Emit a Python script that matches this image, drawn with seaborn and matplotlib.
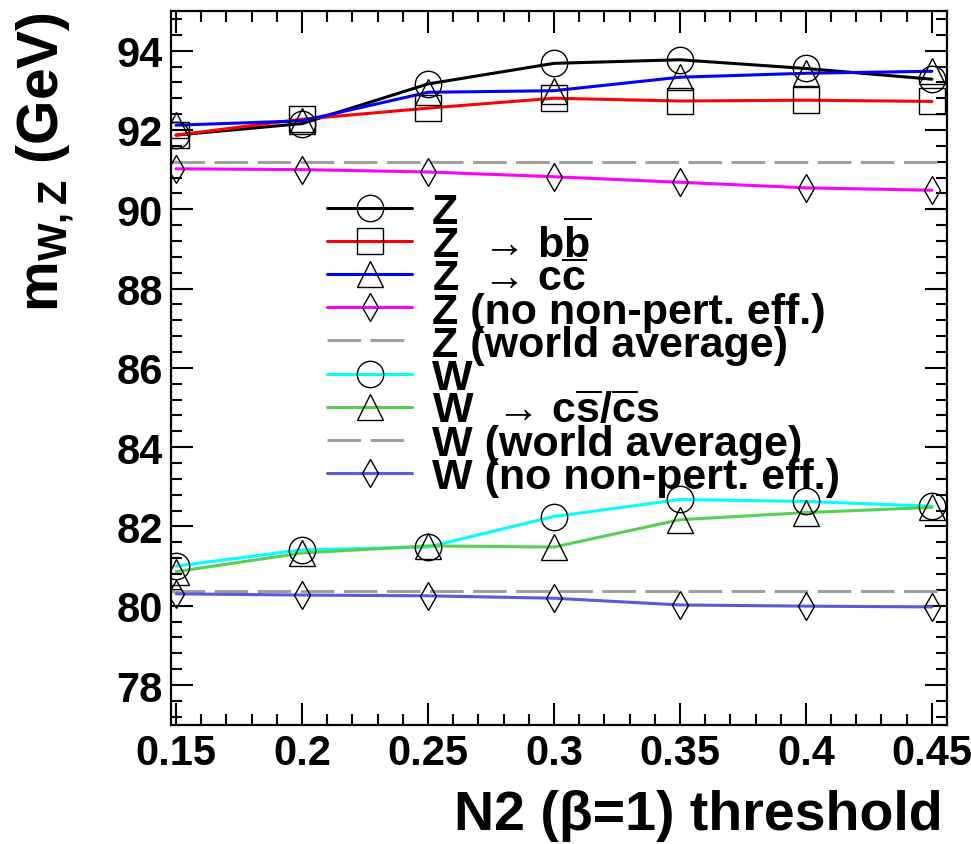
import numpy as np
import pandas as pd
import matplotlib
matplotlib.use("Agg")
import matplotlib.pyplot as plt
from matplotlib.lines import Line2D
from matplotlib.ticker import MultipleLocator
import seaborn as sns

# N2 (beta=1) threshold values
thresholds = [0.15, 0.2, 0.25, 0.3, 0.35, 0.4, 0.45]
x_tick_labels = ["0.15", "0.2", "0.25", "0.3", "0.35", "0.4", "0.45"]
y_ticks = [78, 80, 82, 84, 86, 88, 90, 92, 94]

# fitted masses (GeV)
z_mass = [91.87, 92.16, 93.16, 93.68, 93.77, 93.55, 93.28]
z_bb = [91.87, 92.27, 92.55, 92.80, 92.73, 92.75, 92.72]
z_cc = [92.12, 92.23, 92.95, 92.99, 93.33, 93.43, 93.48]
z_nonpert = [91.02, 91.00, 90.94, 90.82, 90.68, 90.54, 90.48]
z_world = 91.19
w_mass = [81.00, 81.41, 81.48, 82.25, 82.68, 82.63, 82.51]
w_cs = [80.86, 81.33, 81.51, 81.48, 82.17, 82.35, 82.48]
w_world = 80.37
w_nonpert = [80.30, 80.27, 80.25, 80.19, 80.02, 79.99, 79.97]

labels = [
    "Z",
    "Z  \u2192 b$\\overline{\\mathrm{b}}$",
    "Z  \u2192 c$\\overline{\\mathrm{c}}$",
    "Z (no non-pert. eff.)",
    "Z (world average)",
    "W",
    "W  \u2192 c$\\overline{\\mathrm{s}}$/$\\overline{\\mathrm{c}}$s",
    "W (world average)",
    "W (no non-pert. eff.)",
]

sns.set_style("ticks")
plt.rcParams["font.family"] = ["Liberation Sans", "DejaVu Sans"]
plt.rcParams["font.weight"] = "bold"
plt.rcParams["mathtext.fontset"] = "custom"
plt.rcParams["mathtext.rm"] = "Liberation Sans:bold"
plt.rcParams["mathtext.bf"] = "Liberation Sans:bold"
plt.rcParams["mathtext.it"] = "Liberation Sans:bold"
for k in ["text.color", "axes.labelcolor", "xtick.color", "ytick.color", "axes.edgecolor"]:
    plt.rcParams[k] = "black"

fig = plt.figure(figsize=(9.71, 8.45), dpi=100)
ax = fig.add_axes([171 / 971, 1 - 725.7 / 845, 776 / 971, 713.7 / 845])

lw = 2.2
dash = (11, 3.1)
gray = "#a0a0a0"

# (values, line colour, marker, marker size)
series = [
    (z_mass, "black", "o", 19),
    (z_bb, "#ff0000", "s", 19),
    (z_cc, "#0000ff", "^", 19),
    (z_nonpert, "#ff00ff", "d", 14),
    (w_mass, "#00ffff", "o", 19),
    (w_cs, "#55d055", "^", 19),
    (w_nonpert, "#5a5ae0", "d", 14),
]

for vals, col, mk, ms in series:
    df = pd.DataFrame({"x": thresholds, "y": vals})
    sns.lineplot(data=df, x="x", y="y", color=col, lw=lw, ax=ax, zorder=2)

ax.axhline(z_world, color=gray, lw=lw, dashes=dash, zorder=1)
ax.axhline(w_world, color=gray, lw=lw, dashes=dash, zorder=1)

# markers on top of the lines
for vals, col, mk, ms in series:
    df = pd.DataFrame({"x": thresholds, "y": vals})
    sns.lineplot(data=df, x="x", y="y", lw=0, marker=mk, markersize=ms,
                 markerfacecolor="none", markeredgecolor="black",
                 markeredgewidth=1.0, ax=ax, zorder=3)

# legend keys: (line colour, marker, size, dashed)
keys = [
    ("black", "o", 19, False),
    ("#ff0000", "s", 19, False),
    ("#0000ff", "^", 19, False),
    ("#ff00ff", "d", 14, False),
    (gray, None, 0, True),
    ("#00ffff", "o", 19, False),
    ("#55d055", "^", 19, False),
    (gray, None, 0, True),
    ("#5a5ae0", "d", 14, False),
]

# legend laid out row by row with a fixed step (rows overlap as in the original)
ax_h = 713.7
ax_w = 776.0
x0, x1, xt = (327 - 171) / ax_w, (412 - 171) / ax_w, (432 - 171) / ax_w
row0, step = 209.0, 33.1
for i, ((col, mk, ms, dashed), lab) in enumerate(zip(keys, labels)):
    yc = (725.7 - (row0 + i * step)) / ax_h
    yb = (725.7 - (row0 + i * step + 15.5)) / ax_h
    if dashed:
        ln = Line2D([x0, x1], [yc, yc], color=col, lw=lw, dashes=dash,
                    transform=ax.transAxes, clip_on=False)
    else:
        ln = Line2D([x0, x1], [yc, yc], color=col, lw=lw,
                    transform=ax.transAxes, clip_on=False)
    ax.add_line(ln)
    if mk is not None:
        mline = Line2D([(x0 + x1) / 2], [yc], lw=0, marker=mk, markersize=ms,
                       markerfacecolor="none", markeredgecolor="black",
                       markeredgewidth=1.0, transform=ax.transAxes, clip_on=False)
        ax.add_line(mline)
    ax.text(xt, yb, lab, transform=ax.transAxes, fontsize=31,
            fontweight="bold", ha="left", va="baseline")

ax.set_xlim(0.148, 0.456)
ax.set_ylim(77, 95)
ax.set_xticks(thresholds, labels=x_tick_labels)
ax.set_yticks(y_ticks, labels=[str(v) for v in y_ticks])
ax.xaxis.set_minor_locator(MultipleLocator(0.01))
ax.yaxis.set_minor_locator(MultipleLocator(0.4))
ax.tick_params(which="both", direction="in", top=True, right=True, width=1.5,
               labelsize=30, color="black", labelcolor="black")
ax.tick_params(which="major", length=16, pad=6)
ax.tick_params(which="minor", length=8)
for s in ax.spines.values():
    s.set_linewidth(1.6)
    s.set_color("black")

ax.set_xlabel("N2 (\u03b2=1) threshold", fontsize=40, fontweight="bold")
ax.xaxis.set_label_coords(0.995, -0.09)
ax.xaxis.label.set_horizontalalignment("right")
ax.set_ylabel("m$_{\\mathrm{W,Z}}$ (GeV)", fontsize=41, fontweight="bold", loc="top")
ax.yaxis.set_label_coords(-0.122, 1.0)

fig.savefig("out.png", dpi=100)
